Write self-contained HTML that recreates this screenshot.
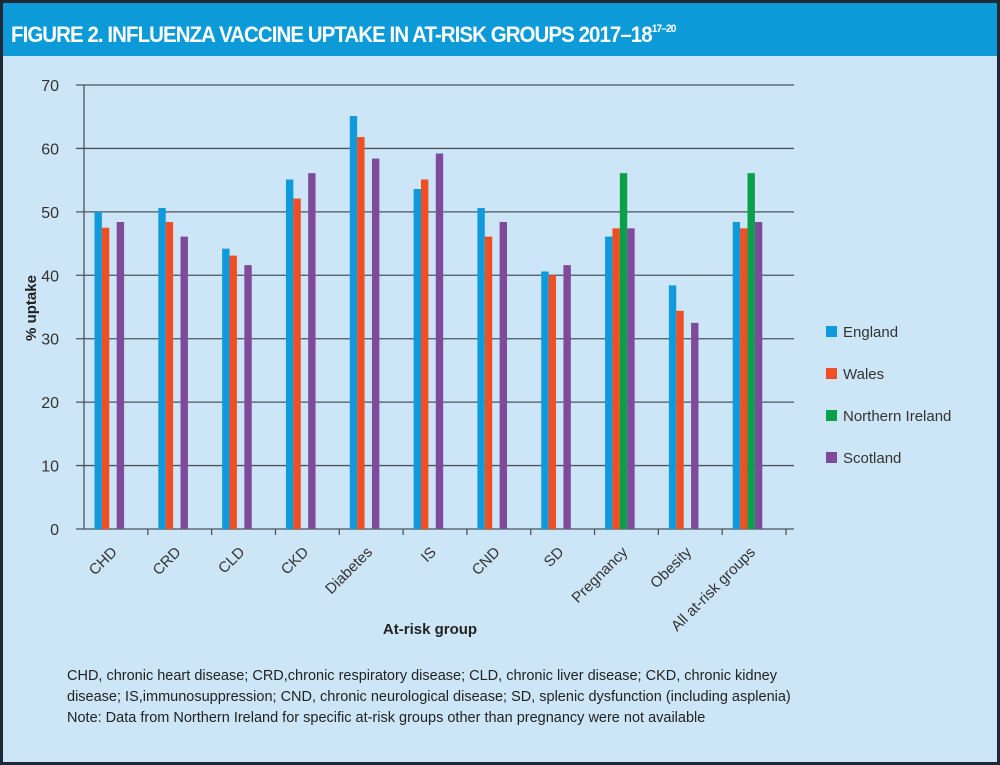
<!DOCTYPE html>
<html><head><meta charset="utf-8"><style>
body{margin:0;width:1000px;height:765px;overflow:hidden;background:#1d2a36;font-family:"Liberation Sans",sans-serif}
#frame{position:absolute;left:3px;top:3px;width:994px;height:759px;background:#cde6f7}
#title{position:absolute;left:0;top:0;width:994px;height:53px;background:#0c9ad9;}
#title span{position:absolute;left:8px;top:0;color:#fff;font-weight:bold;font-size:22px;line-height:52px;letter-spacing:-1px;white-space:nowrap;transform:scaleX(0.93);transform-origin:left}
#title sup{font-size:11px;vertical-align:10px}
#foot{position:absolute;left:64px;top:663px;font-size:14.5px;line-height:21px;color:#222}
</style></head><body>
<div id="frame">
<div id="title"><span>FIGURE 2. INFLUENZA VACCINE UPTAKE IN AT-RISK GROUPS 2017–18<sup>17–20</sup></span></div>
<div id="foot">CHD, chronic heart disease; CRD,chronic respiratory disease; CLD, chronic liver disease; CKD, chronic kidney<br>disease; IS,immunosuppression; CND, chronic neurological disease; SD, splenic dysfunction (including asplenia)<br>Note: Data from Northern Ireland for specific at-risk groups other than pregnancy were not available</div>
</div>
<svg id="chart" width="1000" height="765" style="position:absolute;left:0;top:0"></svg>
<script>
const categories=["CHD","CRD","CLD","CKD","Diabetes","IS","CND","SD","Pregnancy","Obesity","All at-risk groups"];
const seriesNames=["England","Wales","Northern Ireland","Scotland"];
const england=[50,50.6,44.2,55.1,65.1,53.6,50.6,40.6,46.1,38.4,48.4];
const wales=[47.5,48.4,43.1,52.1,61.8,55.1,46.1,40,47.4,34.4,47.4];
const nireland=[null,null,null,null,null,null,null,null,56.1,null,56.1];
const scotland=[48.4,46.1,41.6,56.1,58.4,59.2,48.4,41.6,47.4,32.5,48.4];
const yTicks=[0,10,20,30,40,50,60,70];
const colors=["#0f9bdb","#f04e23","#0aa04a","#7f4a9c"];
const svg=document.getElementById('chart');const NS="http://www.w3.org/2000/svg";
const x0=84,x1=786,y0=529,yTop=85;
const bw=(x1-x0)/categories.length;
const y=v=>y0-(v/70)*(y0-yTop);
const xc=i=>x0+i*bw;
function mk(t,a){const e=document.createElementNS(NS,t);for(const k in a)e.setAttribute(k,a[k]);svg.appendChild(e);return e;}
yTicks.forEach(t=>{
 const l=mk('line',{x1:x0-8,x2:x1+8,y1:y(t),y2:y(t),stroke:'#4a5560','stroke-width':1.3});
 
 
 const tx=mk('text',{x:x0-25,y:y(t)+6,'text-anchor':'end','font-size':16,fill:'#333','font-family':'Liberation Sans, sans-serif'});
 tx.textContent=t;
 
 
});
const yl=mk('line',{x1:x0,x2:x0,y1:yTop,y2:y0,stroke:'#4a5560','stroke-width':1.3});


const all=[england,wales,nireland,scotland];
categories.forEach((c,i)=>{
 const tk=mk('line',{x1:xc(i+1),x2:xc(i+1),y1:y0,y2:y0+6,stroke:'#4a5560','stroke-width':1.3});
 
 
 all.forEach((s,j)=>{
  if(s[i]==null)return;
  const r=mk('rect',{x:xc(i)+10.5+j*7.4,y:y(s[i]),width:7.4,height:y0-y(s[i]),fill:colors[j]});
  
  
 });
 const cx=xc(i)+bw/2+2,cy=y0+24;
 const tx=mk('text',{x:cx,y:cy,'text-anchor':'end','font-size':15,fill:'#333',transform:`rotate(-45 ${cx} ${cy})`,'font-family':'Liberation Sans, sans-serif'});
 tx.textContent=c;
 
 
});
const xt=mk('text',{x:430,y:634,'text-anchor':'middle','font-size':15,'font-weight':'bold',fill:'#222','font-family':'Liberation Sans, sans-serif'});
xt.textContent='At-risk group';


const yt=mk('text',{x:36,y:308,'text-anchor':'middle','font-size':15,'font-weight':'bold',fill:'#222',transform:'rotate(-90 36 308)','font-family':'Liberation Sans, sans-serif'});
yt.textContent='% uptake';


seriesNames.forEach((n,j)=>{
 const ly=331+j*42;
 const r=mk('rect',{x:826,y:ly-5,width:11,height:11,fill:colors[j]});
 
 
 const t=mk('text',{x:843,y:ly+6,'font-size':15,fill:'#333','font-family':'Liberation Sans, sans-serif'});
 t.textContent=n;
 
 
});
</script>
</body></html>
